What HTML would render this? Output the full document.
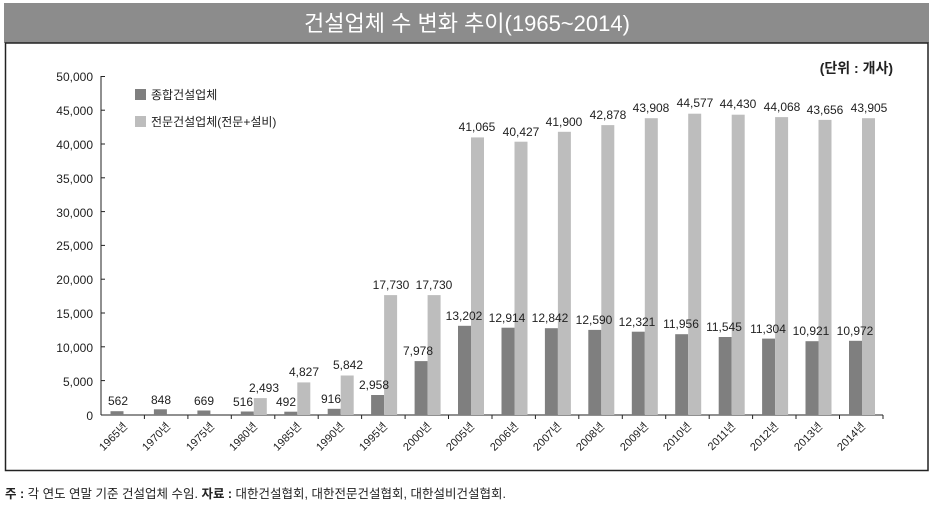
<!DOCTYPE html>
<html><head><meta charset="utf-8"><style>
body{margin:0;background:#fff;width:935px;height:507px;overflow:hidden}
svg{display:block;font-family:"Liberation Sans Narrow","Liberation Sans","Noto Sans CJK KR",sans-serif}
</style></head><body>
<svg width="935" height="507" viewBox="0 0 935 507">
<rect x="4" y="3" width="925" height="40" fill="#8c8c8c"/>
<text x="467" y="31" font-size="22" fill="#fff" text-anchor="middle" font-family="'Liberation Sans','Noto Sans CJK KR',sans-serif">건설업체 수 변화 추이(1965~2014)</text>
<rect x="5.5" y="43" width="922.5" height="427.5" fill="none" stroke="#222" stroke-width="1.5"/>
<text x="893" y="73" font-size="14" text-anchor="end" font-weight="bold" fill="#222" font-family="'Liberation Sans','Noto Sans CJK KR',sans-serif">(단위 : 개사)</text>
<g font-size="12" fill="#222" text-anchor="end">
<text x="93" y="81">50,000</text><text x="93" y="115">45,000</text><text x="93" y="149">40,000</text><text x="93" y="183">35,000</text><text x="93" y="217">30,000</text><text x="93" y="250">25,000</text><text x="93" y="284">20,000</text><text x="93" y="318">15,000</text><text x="93" y="352">10,000</text><text x="93" y="386">5,000</text><text x="93" y="420">0</text>
</g>
<g stroke="#222" stroke-width="1">
<line x1="101" y1="76" x2="101" y2="415"/><line x1="101" y1="415" x2="883" y2="415"/>
<line x1="101" y1="76.5" x2="105" y2="76.5"/><line x1="101" y1="110.2" x2="105" y2="110.2"/><line x1="101" y1="144" x2="105" y2="144"/><line x1="101" y1="177.8" x2="105" y2="177.8"/><line x1="101" y1="211.6" x2="105" y2="211.6"/><line x1="101" y1="245.4" x2="105" y2="245.4"/><line x1="101" y1="279.2" x2="105" y2="279.2"/><line x1="101" y1="313" x2="105" y2="313"/><line x1="101" y1="346.8" x2="105" y2="346.8"/><line x1="101" y1="380.6" x2="105" y2="380.6"/>
<line x1="144.4" y1="415" x2="144.4" y2="419"/><line x1="187.9" y1="415" x2="187.9" y2="419"/><line x1="231.3" y1="415" x2="231.3" y2="419"/><line x1="274.8" y1="415" x2="274.8" y2="419"/><line x1="318.2" y1="415" x2="318.2" y2="419"/><line x1="361.6" y1="415" x2="361.6" y2="419"/><line x1="405.1" y1="415" x2="405.1" y2="419"/><line x1="448.5" y1="415" x2="448.5" y2="419"/><line x1="492" y1="415" x2="492" y2="419"/><line x1="535.4" y1="415" x2="535.4" y2="419"/><line x1="578.8" y1="415" x2="578.8" y2="419"/><line x1="622.3" y1="415" x2="622.3" y2="419"/><line x1="665.7" y1="415" x2="665.7" y2="419"/><line x1="709.2" y1="415" x2="709.2" y2="419"/><line x1="752.6" y1="415" x2="752.6" y2="419"/><line x1="796" y1="415" x2="796" y2="419"/><line x1="839.5" y1="415" x2="839.5" y2="419"/><line x1="883" y1="415" x2="883" y2="419"/>
</g>
<rect x="135" y="89" width="11" height="11" fill="#7f7f7f"/>
<rect x="135" y="116" width="11" height="11" fill="#bdbdbd"/>
<g font-size="12" fill="#222" font-family="'Liberation Sans','Noto Sans CJK KR',sans-serif">
<text x="151" y="99">종합건설업체</text>
<text x="151" y="126">전문건설업체(전문+설비)</text>
</g>
<g fill="#7f7f7f">
<rect x="110.5" y="411.2" width="13" height="3.8"/>
<rect x="153.9" y="409.3" width="13" height="5.7"/>
<rect x="197.4" y="410.5" width="13" height="4.5"/>
<rect x="240.8" y="411.5" width="13" height="3.5"/>
<rect x="284.3" y="411.7" width="13" height="3.3"/>
<rect x="327.7" y="408.8" width="13" height="6.2"/>
<rect x="371.1" y="395" width="13" height="20"/>
<rect x="414.6" y="361.1" width="13" height="53.9"/>
<rect x="458" y="325.8" width="13" height="89.2"/>
<rect x="501.5" y="327.7" width="13" height="87.3"/>
<rect x="544.9" y="328.2" width="13" height="86.8"/>
<rect x="588.3" y="329.9" width="13" height="85.1"/>
<rect x="631.8" y="331.7" width="13" height="83.3"/>
<rect x="675.2" y="334.2" width="13" height="80.8"/>
<rect x="718.7" y="337" width="13" height="78"/>
<rect x="762.1" y="338.6" width="13" height="76.4"/>
<rect x="805.5" y="341.2" width="13" height="73.8"/>
<rect x="849" y="340.8" width="13" height="74.2"/>
</g>
<g fill="#bdbdbd">
<rect x="253.8" y="398.1" width="13" height="16.9"/>
<rect x="297.3" y="382.4" width="13" height="32.6"/>
<rect x="340.7" y="375.5" width="13" height="39.5"/>
<rect x="384.1" y="295.1" width="13" height="119.9"/>
<rect x="427.6" y="295.1" width="13" height="119.9"/>
<rect x="471" y="137.4" width="13" height="277.6"/>
<rect x="514.5" y="141.7" width="13" height="273.3"/>
<rect x="557.9" y="131.8" width="13" height="283.2"/>
<rect x="601.3" y="125.1" width="13" height="289.9"/>
<rect x="644.8" y="118.2" width="13" height="296.8"/>
<rect x="688.2" y="113.7" width="13" height="301.3"/>
<rect x="731.7" y="114.7" width="13" height="300.3"/>
<rect x="775.1" y="117.1" width="13" height="297.9"/>
<rect x="818.5" y="119.9" width="13" height="295.1"/>
<rect x="862" y="118.2" width="13" height="296.8"/>
</g>
<g font-size="12" fill="#222" text-anchor="middle">
<text x="118" y="405">562</text>
<text x="161" y="404">848</text>
<text x="204" y="405">669</text>
<text x="243" y="406">516</text>
<text x="286" y="406">492</text>
<text x="331" y="403">916</text>
<text x="374" y="389">2,958</text>
<text x="418" y="355">7,978</text>
<text x="464" y="320">13,202</text>
<text x="507" y="322">12,914</text>
<text x="550" y="322">12,842</text>
<text x="594" y="324">12,590</text>
<text x="637" y="326">12,321</text>
<text x="681" y="328">11,956</text>
<text x="724" y="331">11,545</text>
<text x="768" y="333">11,304</text>
<text x="811" y="335">10,921</text>
<text x="855" y="335">10,972</text>
<text x="264" y="392">2,493</text>
<text x="304" y="376">4,827</text>
<text x="348" y="369">5,842</text>
<text x="391" y="289">17,730</text>
<text x="434" y="289">17,730</text>
<text x="477" y="131">41,065</text>
<text x="521" y="136">40,427</text>
<text x="564" y="126">41,900</text>
<text x="608" y="119">42,878</text>
<text x="651" y="112">43,908</text>
<text x="695" y="107">44,577</text>
<text x="738" y="108">44,430</text>
<text x="782" y="111">44,068</text>
<text x="825" y="114">43,656</text>
<text x="869" y="112">43,905</text>
</g>
<g font-size="11" fill="#222" text-anchor="end" font-family="'Liberation Sans','Noto Sans CJK KR',sans-serif">
<text transform="translate(128,427) rotate(-45)">1965년</text>
<text transform="translate(171,427) rotate(-45)">1970년</text>
<text transform="translate(215,427) rotate(-45)">1975년</text>
<text transform="translate(258,427) rotate(-45)">1980년</text>
<text transform="translate(302,427) rotate(-45)">1985년</text>
<text transform="translate(345,427) rotate(-45)">1990년</text>
<text transform="translate(388,427) rotate(-45)">1995년</text>
<text transform="translate(432,427) rotate(-45)">2000년</text>
<text transform="translate(475,427) rotate(-45)">2005년</text>
<text transform="translate(519,427) rotate(-45)">2006년</text>
<text transform="translate(562,427) rotate(-45)">2007년</text>
<text transform="translate(605,427) rotate(-45)">2008년</text>
<text transform="translate(649,427) rotate(-45)">2009년</text>
<text transform="translate(692,427) rotate(-45)">2010년</text>
<text transform="translate(736,427) rotate(-45)">2011년</text>
<text transform="translate(779,427) rotate(-45)">2012년</text>
<text transform="translate(823,427) rotate(-45)">2013년</text>
<text transform="translate(866,427) rotate(-45)">2014년</text>
</g>
<text x="5" y="498" font-size="12.5" fill="#222" font-family="'Liberation Sans','Noto Sans CJK KR',sans-serif"><tspan font-weight="bold">주 :</tspan> 각 연도 연말 기준 건설업체 수임.   <tspan font-weight="bold">자료 :</tspan> 대한건설협회, 대한전문건설협회, 대한설비건설협회.</text>
</svg>
</body></html>
